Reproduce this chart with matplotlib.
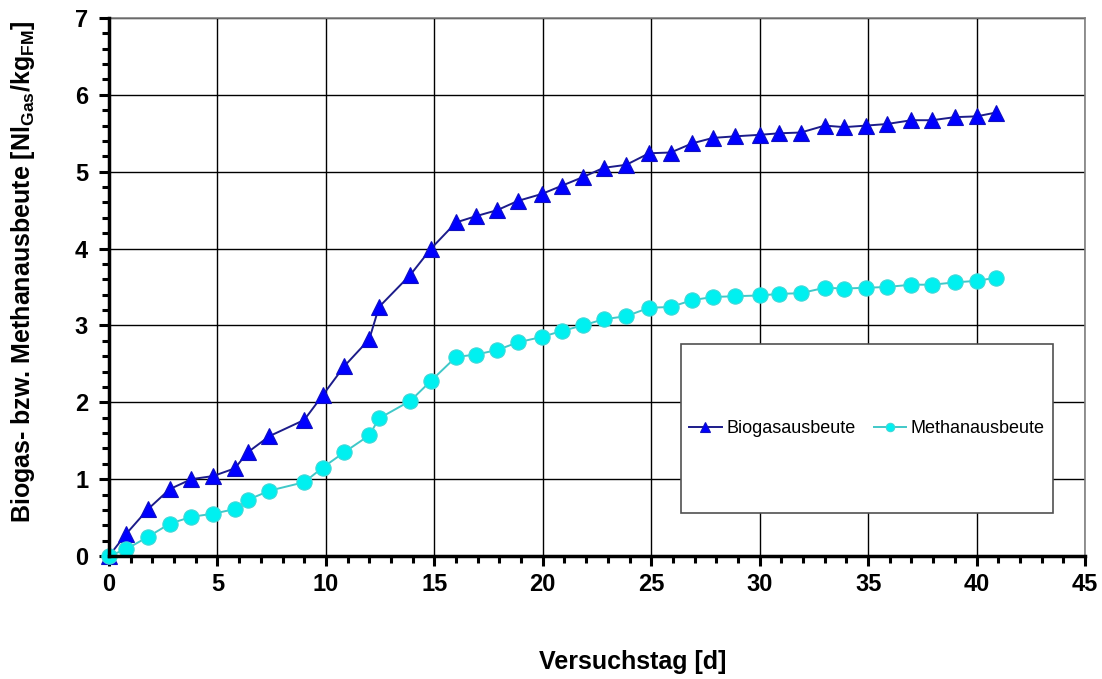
import matplotlib
matplotlib.use("Agg")
import matplotlib.pyplot as plt
from matplotlib.patches import Rectangle
from matplotlib.ticker import MultipleLocator

plt.rcParams["font.family"] = ["Liberation Sans", "DejaVu Sans"]
plt.rcParams["mathtext.fontset"] = "custom"
plt.rcParams["mathtext.rm"] = "Liberation Sans:bold"
plt.rcParams["mathtext.bf"] = "Liberation Sans:bold"

# Versuchstag [d]
days = [0, 0.8, 1.8, 2.8, 3.8, 4.8, 5.8, 6.4, 7.4, 9.0, 9.85, 10.85, 12.0, 12.45,
        13.9, 14.85, 16.0, 16.9, 17.9, 18.85, 19.95, 20.9, 21.85, 22.8, 23.85,
        24.9, 25.9, 26.9, 27.85, 28.85, 30.0, 30.9, 31.9, 33.0, 33.9, 34.9,
        35.85, 37.0, 37.95, 39.0, 40.0, 40.9]

biogas = [0.0, 0.29, 0.61, 0.87, 1.0, 1.04, 1.14, 1.35, 1.56, 1.77, 2.09, 2.47,
          2.82, 3.24, 3.66, 4.0, 4.34, 4.42, 4.5, 4.62, 4.71, 4.82, 4.93, 5.05,
          5.09, 5.24, 5.25, 5.37, 5.44, 5.46, 5.48, 5.5, 5.51, 5.6, 5.58, 5.6,
          5.62, 5.67, 5.67, 5.71, 5.72, 5.77]

methan = [0.0, 0.09, 0.25, 0.42, 0.51, 0.55, 0.61, 0.73, 0.85, 0.96, 1.15, 1.35,
          1.57, 1.79, 2.02, 2.28, 2.59, 2.62, 2.68, 2.78, 2.85, 2.93, 3.0, 3.08,
          3.12, 3.23, 3.24, 3.33, 3.37, 3.38, 3.39, 3.41, 3.42, 3.49, 3.48, 3.49,
          3.5, 3.53, 3.53, 3.56, 3.58, 3.62]

series_labels = ["Biogasausbeute", "Methanausbeute"]

fig = plt.figure(figsize=(11.02, 6.79), dpi=100)
ax = fig.add_axes([109 / 1102, 1 - 556 / 679, 976 / 1102, 538 / 679])

ax.plot(days, biogas, color="#1c1c8a", lw=1.4, marker="^", ms=12,
        mfc="#0000ff", mec="#1010c0", mew=0.8, label=series_labels[0],
        zorder=4, clip_on=False)
ax.plot(days, methan, color="#40c8c8", lw=1.4, marker="o", ms=11,
        mfc="#00f0f0", mec="#40d8d8", mew=0.8, label=series_labels[1],
        zorder=5, clip_on=False)

ax.set_xlim(0, 45)
ax.set_ylim(0, 7)
ax.xaxis.set_major_locator(MultipleLocator(5))
ax.xaxis.set_minor_locator(MultipleLocator(1))
ax.yaxis.set_major_locator(MultipleLocator(1))
ax.yaxis.set_minor_locator(MultipleLocator(0.2))

ax.grid(True, which="major", color="black", lw=1.0, zorder=1)
ax.set_axisbelow(True)

for side in ["left", "bottom"]:
    ax.spines[side].set_linewidth(2.5)
    ax.spines[side].set_color("black")
    ax.spines[side].set_zorder(6)
for side in ["top", "right"]:
    ax.spines[side].set_linewidth(1.2)
    ax.spines[side].set_color("#808080")

ax.tick_params(which="major", direction="out", length=7, width=2.2,
               labelsize=17)
ax.tick_params(which="minor", direction="out", length=5, width=2.2)
ax.tick_params(axis="x", which="major", pad=5)
ax.tick_params(axis="y", which="major", pad=8)
for lbl in ax.get_xticklabels() + ax.get_yticklabels():
    lbl.set_fontweight("bold")

ax.set_xlabel("Versuchstag [d]", fontsize=18, fontweight="bold")
ax.xaxis.set_label_coords(0.537, -0.175)
ax.set_ylabel(r"Biogas- bzw. Methanausbeute [Nl$_{\mathrm{Gas}}$/kg$_{\mathrm{FM}}$]",
              fontsize=18, fontweight="bold")
ax.yaxis.set_label_coords(-0.074, 0.528)

# legend box
box = Rectangle((0.586, 0.080), 0.381, 0.314, transform=ax.transAxes,
                facecolor="white", edgecolor="#505050", lw=1.2, zorder=7)
ax.add_patch(box)
leg = ax.legend(loc="center", bbox_to_anchor=(0.586 + 0.381 / 2, 0.080 + 0.314 / 2),
                ncol=2, frameon=False, fontsize=13, handlelength=1.8,
                handletextpad=0.25, columnspacing=1.0, markerscale=0.55)
leg.set_zorder(8)

fig.savefig("out.png", dpi=100)
